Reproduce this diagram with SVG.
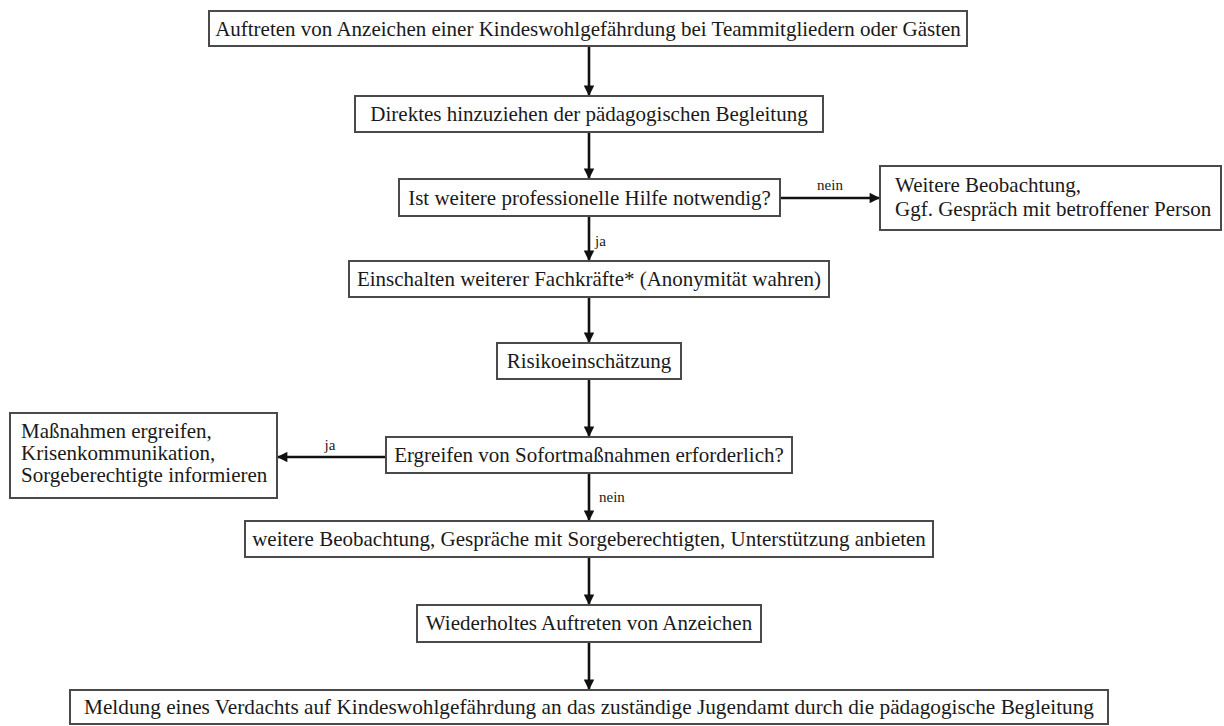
<svg xmlns="http://www.w3.org/2000/svg" width="1224" height="726" viewBox="0 0 1224 726">
<style>
.box{fill:#fff;stroke:#4a4a4a;stroke-width:2}
.t{font-family:"Liberation Serif","Times New Roman",serif;font-size:21px;fill:#1a1a1a}
.c{text-anchor:middle}
.lbl{font-family:"Liberation Serif","Times New Roman",serif;font-size:15px;fill:#1a1a1a}
.edge{stroke:#111;stroke-width:2.6;fill:none;marker-end:url(#ah)}
</style>
<defs>
<marker id="ah" viewBox="0 0 10 10" refX="10" refY="5" markerWidth="4.4" markerHeight="4" markerUnits="strokeWidth" orient="auto">
<path d="M0,0 L10,5 L0,10 z" fill="#111"/>
</marker>
</defs>
<rect width="1224" height="726" fill="#fff"/>
<g id="connectors">
<line class="edge" x1="589" y1="46" x2="589" y2="96"/>
<line class="edge" x1="589" y1="132" x2="589" y2="179"/>
<line class="edge" x1="780" y1="198" x2="880" y2="198"/>
<text class="lbl c" x="830" y="190">nein</text>
<line class="edge" x1="589" y1="216" x2="589" y2="261"/>
<text class="lbl" x="595" y="246">ja</text>
<line class="edge" x1="589" y1="297" x2="589" y2="343"/>
<line class="edge" x1="589" y1="379" x2="589" y2="437"/>
<line class="edge" x1="386" y1="457" x2="277" y2="457"/>
<text class="lbl c" x="330" y="450">ja</text>
<line class="edge" x1="589" y1="473" x2="589" y2="521"/>
<text class="lbl" x="599" y="502">nein</text>
<line class="edge" x1="589" y1="557" x2="589" y2="605"/>
<line class="edge" x1="589" y1="642" x2="589" y2="690"/>
</g>
<g id="n1"><rect class="box" x="209" y="11" width="758" height="35"/><text class="t c" x="588" y="36">Auftreten von Anzeichen einer Kindeswohlgefährdung bei Teammitgliedern oder Gästen</text></g>
<g id="n2"><rect class="box" x="355" y="96" width="468" height="36"/><text class="t c" x="589" y="121">Direktes hinzuziehen der pädagogischen Begleitung</text></g>
<g id="n3"><rect class="box" x="399" y="179" width="381" height="37"/><text class="t c" x="589.5" y="205">Ist weitere professionelle Hilfe notwendig?</text></g>
<g id="n4"><rect class="box" x="880" y="166" width="341" height="64"/><text class="t" x="895" y="192">Weitere Beobachtung,</text><text class="t" x="895" y="216">Ggf. Gespräch mit betroffener Person</text></g>
<g id="n5"><rect class="box" x="349" y="261" width="480" height="36"/><text class="t c" x="589" y="286">Einschalten weiterer Fachkräfte* (Anonymität wahren)</text></g>
<g id="n6"><rect class="box" x="497" y="343" width="184" height="36"/><text class="t c" x="589" y="368">Risikoeinschätzung</text></g>
<g id="n7"><rect class="box" x="386" y="437" width="406" height="36"/><text class="t c" x="589" y="462">Ergreifen von Sofortmaßnahmen erforderlich?</text></g>
<g id="n8"><rect class="box" x="10" y="413" width="267" height="85"/><text class="t" x="21" y="438">Maßnahmen ergreifen,</text><text class="t" x="21" y="460">Krisenkommunikation,</text><text class="t" x="21" y="482">Sorgeberechtigte informieren</text></g>
<g id="n9"><rect class="box" x="245" y="521" width="688" height="36"/><text class="t c" x="589" y="546">weitere Beobachtung, Gespräche mit Sorgeberechtigten, Unterstützung anbieten</text></g>
<g id="n10"><rect class="box" x="417" y="605" width="344" height="37"/><text class="t c" x="589" y="630">Wiederholtes Auftreten von Anzeichen</text></g>
<g id="n11"><rect class="box" x="70" y="690" width="1038" height="34"/><text class="t c" x="589" y="714" textLength="1010" lengthAdjust="spacingAndGlyphs">Meldung eines Verdachts auf Kindeswohlgefährdung an das zuständige Jugendamt durch die pädagogische Begleitung</text></g>
</svg>
